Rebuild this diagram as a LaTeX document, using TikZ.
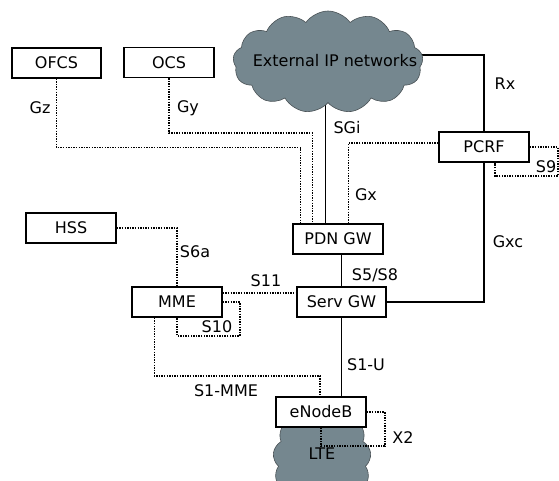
\documentclass[tikz,border=0pt]{standalone}
\usepackage{fontspec}
\setmainfont{DejaVu Sans}
\usetikzlibrary{shapes.symbols,calc}
\definecolor{cloudgray}{HTML}{75878F}
\definecolor{cloudline}{HTML}{4A5256}
\tikzset{
  box/.style={draw,line width=1.4pt,fill=white,minimum height=30pt,inner sep=0pt,font=\fontsize{16}{18}\selectfont},
  netcloud/.style={cloud,cloud puffs=13,cloud puff arc=110,cloud ignores aspect,draw=cloudline,fill=cloudgray,line width=0.6pt,inner sep=0pt},
  dotline/.style={line width=1.6pt,dash pattern=on 1.4pt off 1.2pt},
  solidline/.style={line width=1.4pt},
  lbl/.style={font=\fontsize{16}{18}\selectfont,inner sep=0pt}
}
\begin{document}
\begin{tikzpicture}[x=1pt,y=-1pt]
\useasboundingbox (0,0) rectangle (559,481);
% boxes
\node[box,minimum width=89pt] (ofcs) at (56.5,63) {OFCS};
\node[box,minimum width=90pt] (ocs) at (169,62.5) {OCS};
\node[box,minimum width=90pt] (hss) at (71,228) {HSS};
\node[box,minimum width=90pt] (mme) at (177,302) {MME};
\node[box,minimum width=90pt] (pdn) at (338,239) {PDN GW};
\node[box,minimum width=89pt] (serv) at (341.5,302) {Serv GW};
\node[box,minimum width=90pt] (pcrf) at (484,147) {PCRF};
% cloud centres
\path (328,62) coordinate (extc);
\path (322,460) coordinate (ltec);
% connectors
\draw[dotline] (ofcs.south) -- ++(0,69) -| ([xshift=8pt]pdn.north west);
\draw[dotline] (ocs.south) -- ++(0,55) -| ([xshift=20pt]pdn.north west);
\draw[solidline] ([xshift=33pt]pdn.north west) -- ([xshift=33pt]pdn.north west |- extc);
\draw[dotline] ([yshift=4pt]pcrf.west) -| ([xshift=56pt]pdn.north west);
\draw[solidline] (pcrf.north) |- ([yshift=7pt]extc);
\draw[dotline] (pcrf.east) -- ++(28,0) -- ++(0,29) -| ([xshift=11pt]pcrf.south);
\draw[solidline] (pcrf.south) |- (serv.east);
\draw[solidline] (serv.north) -- (serv.north |- pdn.south);
\draw[dotline] (hss.east) -| (mme.north);
\draw[dotline] ([yshift=9pt]mme.east) -- ([yshift=9pt]serv.west);
\draw[dotline] (mme.east) -- ++(17,0) -- ++(0,34) -| (mme.south);
% clouds
\node[netcloud,minimum width=190pt,minimum height=102pt] (ext) at (extc) {};
\node[lbl] (extlbl) at (335,61) {External IP networks};
\node[netcloud,minimum width=98pt,minimum height=112pt] (lte) at (ltec) {};
\node[box,minimum width=90pt] (enb) at (321,412) {eNodeB};
\node[lbl] (ltelbl) at (322,454) {LTE};
\draw[solidline] (serv.south) -- (serv.south |- enb.north);
\draw[dotline] (enb.east) -- ++(18,0) -- ++(0,34) -| (enb.south);
\draw[dotline] ([xshift=23pt]mme.south west) -- ++(0,58) -| ([xshift=-1pt]enb.north);
% labels
\node[lbl] (lgz) at (40,108) {Gz};
\node[lbl] (lgy) at (188,108) {Gy};
\node[lbl] (lrx) at (505,84) {Rx};
\node[lbl] (lsgi) at (347,128) {SGi};
\node[lbl] (lgx) at (366,195) {Gx};
\node[lbl] (ls9) at (546,167) {S9};
\node[lbl] (lgxc) at (508,242) {Gxc};
\node[lbl] (ls5) at (375,275) {S5/S8};
\node[lbl] (ls11) at (266,281) {S11};
\node[lbl] (ls6a) at (195,252) {S6a};
\node[lbl] (ls10) at (217,327) {S10};
\node[lbl] (ls1u) at (366,365) {S1-U};
\node[lbl] (ls1mme) at (226,391) {S1-MME};
\node[lbl] (lx2) at (403,438) {X2};
\end{tikzpicture}
\end{document}
